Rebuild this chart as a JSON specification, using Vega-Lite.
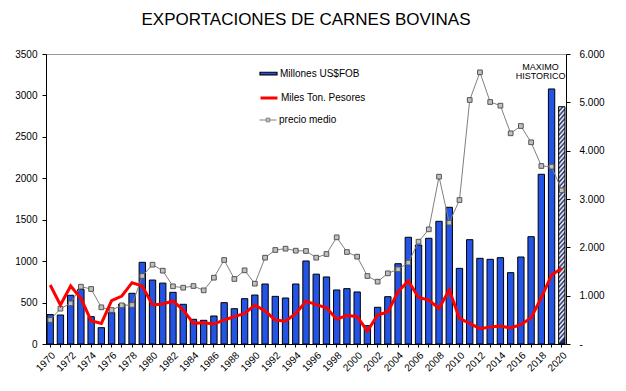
{
  "$schema": "https://vega.github.io/schema/vega-lite/v6.json",
  "width": 520,
  "height": 290,
  "autosize": "none",
  "padding": {"left": 46, "top": 54, "right": 60, "bottom": 47},
  "background": "white",
  "title": {"text": "EXPORTACIONES DE CARNES BOVINAS", "anchor": "middle", "offset": 20, "fontSize": 17, "fontWeight": "normal", "font": "Liberation Sans", "color": "black"},
  "config": {
    "font": "Liberation Sans",
    "view": {"stroke": "#999999", "strokeWidth": 1},
    "axis": {"labelFont": "Liberation Sans", "labelFontSize": 10, "labelColor": "black", "domainColor": "black", "tickColor": "black", "grid": false, "title": null},
    "legend": {"orient": "none", "padding": 0, "labelFont": "Liberation Sans", "labelFontSize": 10, "labelColor": "black", "labelOffset": 2, "symbolSize": 289, "symbolOpacity": 1, "title": null}
  },
  "data": {"values": [
    {"year": 1970, "usd": 355, "tons": 712, "precio": 497},
    {"year": 1971, "usd": 350, "tons": 471, "precio": 731},
    {"year": 1972, "usd": 588, "tons": 700, "precio": 841},
    {"year": 1973, "usd": 660, "tons": 551, "precio": 1186},
    {"year": 1974, "usd": 330, "tons": 281, "precio": 1138},
    {"year": 1975, "usd": 197, "tons": 249, "precio": 759},
    {"year": 1976, "usd": 378, "tons": 523, "precio": 703},
    {"year": 1977, "usd": 483, "tons": 579, "precio": 800},
    {"year": 1978, "usd": 612, "tons": 740, "precio": 807},
    {"year": 1979, "usd": 986, "tons": 700, "precio": 1407},
    {"year": 1980, "usd": 772, "tons": 471, "precio": 1641},
    {"year": 1981, "usd": 735, "tons": 483, "precio": 1517},
    {"year": 1982, "usd": 624, "tons": 519, "precio": 1193},
    {"year": 1983, "usd": 479, "tons": 410, "precio": 1165},
    {"year": 1984, "usd": 298, "tons": 249, "precio": 1200},
    {"year": 1985, "usd": 286, "tons": 257, "precio": 1110},
    {"year": 1986, "usd": 338, "tons": 241, "precio": 1372},
    {"year": 1987, "usd": 499, "tons": 290, "precio": 1738},
    {"year": 1988, "usd": 426, "tons": 330, "precio": 1345},
    {"year": 1989, "usd": 547, "tons": 370, "precio": 1524},
    {"year": 1990, "usd": 591, "tons": 471, "precio": 1248},
    {"year": 1991, "usd": 724, "tons": 398, "precio": 1786},
    {"year": 1992, "usd": 575, "tons": 290, "precio": 1945},
    {"year": 1993, "usd": 555, "tons": 274, "precio": 1972},
    {"year": 1994, "usd": 724, "tons": 370, "precio": 1931},
    {"year": 1995, "usd": 1002, "tons": 517, "precio": 1924},
    {"year": 1996, "usd": 843, "tons": 475, "precio": 1786},
    {"year": 1997, "usd": 809, "tons": 438, "precio": 1862},
    {"year": 1998, "usd": 652, "tons": 298, "precio": 2207},
    {"year": 1999, "usd": 668, "tons": 346, "precio": 1903},
    {"year": 2000, "usd": 628, "tons": 330, "precio": 1807},
    {"year": 2001, "usd": 221, "tons": 157, "precio": 1407},
    {"year": 2002, "usd": 443, "tons": 350, "precio": 1290},
    {"year": 2003, "usd": 571, "tons": 386, "precio": 1462},
    {"year": 2004, "usd": 969, "tons": 631, "precio": 1545},
    {"year": 2005, "usd": 1288, "tons": 760, "precio": 1683},
    {"year": 2006, "usd": 1195, "tons": 563, "precio": 2117},
    {"year": 2007, "usd": 1276, "tons": 531, "precio": 2372},
    {"year": 2008, "usd": 1481, "tons": 430, "precio": 3462},
    {"year": 2009, "usd": 1650, "tons": 652, "precio": 2510},
    {"year": 2010, "usd": 913, "tons": 310, "precio": 2979},
    {"year": 2011, "usd": 1259, "tons": 249, "precio": 5048},
    {"year": 2012, "usd": 1034, "tons": 185, "precio": 5621},
    {"year": 2013, "usd": 1022, "tons": 205, "precio": 5007},
    {"year": 2014, "usd": 1042, "tons": 217, "precio": 4931},
    {"year": 2015, "usd": 861, "tons": 193, "precio": 4359},
    {"year": 2016, "usd": 1050, "tons": 233, "precio": 4510},
    {"year": 2017, "usd": 1295, "tons": 318, "precio": 4173},
    {"year": 2018, "usd": 2048, "tons": 559, "precio": 3683},
    {"year": 2019, "usd": 3078, "tons": 833, "precio": 3669},
    {"year": 2020, "usd": 2864, "tons": 913, "precio": 3180}
  ]},
  "encoding": {
    "x": {"field": "year", "type": "ordinal", "scale": {"paddingInner": 0.38, "paddingOuter": 0.1},
      "axis": {"labelAngle": -45, "labelExpr": "datum.value % 2 == 0 ? datum.value : ''", "tickSize": 3, "labelPadding": 3, "labelFontSize": 10}}
  },
  "layer": [
    {
      "transform": [{"filter": "datum.year != 2020"}],
      "mark": {"type": "bar", "stroke": "black", "strokeWidth": 1},
      "encoding": {
        "y": {"field": "usd", "type": "quantitative", "scale": {"domain": [0, 3500], "nice": false},
          "axis": {"orient": "left", "format": "d", "values": [0, 500, 1000, 1500, 2000, 2500, 3000, 3500], "tickSize": 4, "labelPadding": 5}},
        "fill": {"datum": "Millones US$FOB", "scale": {"range": ["#2454e6"]},
          "legend": {"legendX": 213, "legendY": 10, "symbolType": "M-1,-0.15H1V0.15H-1Z", "symbolStrokeColor": "black", "symbolStrokeWidth": 1.2, "symbolFillColor": "#2454e6"}}
      }
    },
    {
      "transform": [{"filter": "datum.year == 2020"}],
      "mark": {"type": "bar", "stroke": "black", "strokeWidth": 1,
        "fill": {"gradient": "linear", "x1": 0, "y1": 0, "x2": 0.03, "y2": 1, "stops": [
          {"offset": 0, "color": "#1c2a6b"}, {"offset": 0.01, "color": "#ffffff"}, {"offset": 0.02, "color": "#1c2a6b"}, {"offset": 0.03, "color": "#ffffff"}, {"offset": 0.04, "color": "#1c2a6b"},
          {"offset": 0.05, "color": "#ffffff"}, {"offset": 0.06, "color": "#1c2a6b"}, {"offset": 0.07, "color": "#ffffff"}, {"offset": 0.08, "color": "#1c2a6b"}, {"offset": 0.09, "color": "#ffffff"},
          {"offset": 0.1, "color": "#1c2a6b"}, {"offset": 0.11, "color": "#ffffff"}, {"offset": 0.12, "color": "#1c2a6b"}, {"offset": 0.13, "color": "#ffffff"}, {"offset": 0.14, "color": "#1c2a6b"},
          {"offset": 0.15, "color": "#ffffff"}, {"offset": 0.16, "color": "#1c2a6b"}, {"offset": 0.17, "color": "#ffffff"}, {"offset": 0.18, "color": "#1c2a6b"}, {"offset": 0.19, "color": "#ffffff"},
          {"offset": 0.2, "color": "#1c2a6b"}, {"offset": 0.21, "color": "#ffffff"}, {"offset": 0.22, "color": "#1c2a6b"}, {"offset": 0.23, "color": "#ffffff"}, {"offset": 0.24, "color": "#1c2a6b"},
          {"offset": 0.25, "color": "#ffffff"}, {"offset": 0.26, "color": "#1c2a6b"}, {"offset": 0.27, "color": "#ffffff"}, {"offset": 0.28, "color": "#1c2a6b"}, {"offset": 0.29, "color": "#ffffff"},
          {"offset": 0.3, "color": "#1c2a6b"}, {"offset": 0.31, "color": "#ffffff"}, {"offset": 0.32, "color": "#1c2a6b"}, {"offset": 0.33, "color": "#ffffff"}, {"offset": 0.34, "color": "#1c2a6b"},
          {"offset": 0.35, "color": "#ffffff"}, {"offset": 0.36, "color": "#1c2a6b"}, {"offset": 0.37, "color": "#ffffff"}, {"offset": 0.38, "color": "#1c2a6b"}, {"offset": 0.39, "color": "#ffffff"},
          {"offset": 0.4, "color": "#1c2a6b"}, {"offset": 0.41, "color": "#ffffff"}, {"offset": 0.42, "color": "#1c2a6b"}, {"offset": 0.43, "color": "#ffffff"}, {"offset": 0.44, "color": "#1c2a6b"},
          {"offset": 0.45, "color": "#ffffff"}, {"offset": 0.46, "color": "#1c2a6b"}, {"offset": 0.47, "color": "#ffffff"}, {"offset": 0.48, "color": "#1c2a6b"}, {"offset": 0.49, "color": "#ffffff"},
          {"offset": 0.5, "color": "#1c2a6b"}, {"offset": 0.51, "color": "#ffffff"}, {"offset": 0.52, "color": "#1c2a6b"}, {"offset": 0.53, "color": "#ffffff"}, {"offset": 0.54, "color": "#1c2a6b"},
          {"offset": 0.55, "color": "#ffffff"}, {"offset": 0.56, "color": "#1c2a6b"}, {"offset": 0.57, "color": "#ffffff"}, {"offset": 0.58, "color": "#1c2a6b"}, {"offset": 0.59, "color": "#ffffff"},
          {"offset": 0.6, "color": "#1c2a6b"}, {"offset": 0.61, "color": "#ffffff"}, {"offset": 0.62, "color": "#1c2a6b"}, {"offset": 0.63, "color": "#ffffff"}, {"offset": 0.64, "color": "#1c2a6b"},
          {"offset": 0.65, "color": "#ffffff"}, {"offset": 0.66, "color": "#1c2a6b"}, {"offset": 0.67, "color": "#ffffff"}, {"offset": 0.68, "color": "#1c2a6b"}, {"offset": 0.69, "color": "#ffffff"},
          {"offset": 0.7, "color": "#1c2a6b"}, {"offset": 0.71, "color": "#ffffff"}, {"offset": 0.72, "color": "#1c2a6b"}, {"offset": 0.73, "color": "#ffffff"}, {"offset": 0.74, "color": "#1c2a6b"},
          {"offset": 0.75, "color": "#ffffff"}, {"offset": 0.76, "color": "#1c2a6b"}, {"offset": 0.77, "color": "#ffffff"}, {"offset": 0.78, "color": "#1c2a6b"}, {"offset": 0.79, "color": "#ffffff"},
          {"offset": 0.8, "color": "#1c2a6b"}, {"offset": 0.81, "color": "#ffffff"}, {"offset": 0.82, "color": "#1c2a6b"}, {"offset": 0.83, "color": "#ffffff"}, {"offset": 0.84, "color": "#1c2a6b"},
          {"offset": 0.85, "color": "#ffffff"}, {"offset": 0.86, "color": "#1c2a6b"}, {"offset": 0.87, "color": "#ffffff"}, {"offset": 0.88, "color": "#1c2a6b"}, {"offset": 0.89, "color": "#ffffff"},
          {"offset": 0.9, "color": "#1c2a6b"}, {"offset": 0.91, "color": "#ffffff"}, {"offset": 0.92, "color": "#1c2a6b"}, {"offset": 0.93, "color": "#ffffff"}, {"offset": 0.94, "color": "#1c2a6b"},
          {"offset": 0.95, "color": "#ffffff"}, {"offset": 0.96, "color": "#1c2a6b"}, {"offset": 0.97, "color": "#ffffff"}, {"offset": 0.98, "color": "#1c2a6b"}, {"offset": 0.99, "color": "#ffffff"},
          {"offset": 1, "color": "#1c2a6b"}
        ]}},
      "encoding": {
        "y": {"field": "usd", "type": "quantitative", "scale": {"domain": [0, 3500], "nice": false}, "axis": null}
      }
    },
    {
      "mark": {"type": "line", "strokeWidth": 1},
      "encoding": {
        "y": {"field": "precio", "type": "quantitative", "scale": {"domain": [0, 6000], "nice": false},
          "axis": {"orient": "right", "values": [0, 1000, 2000, 3000, 4000, 5000, 6000], "tickSize": 4, "labelPadding": 9,
            "labelExpr": "datum.value == 0 ? '-' : replace(format(datum.value, ','), ',', '.')"}},
        "color": {"datum": "precio medio", "scale": {"range": ["#808080"]},
          "legend": {"legendX": 213, "legendY": 57, "symbolType": "M-1,0H-0.22M0.22,0H1M-0.22,-0.22H0.22V0.22H-0.22Z", "symbolFillColor": "#c0c0c0", "symbolStrokeColor": "#707070", "symbolStrokeWidth": 1}}
      }
    },
    {
      "mark": {"type": "point", "shape": "square", "filled": true, "fill": "#c0c0c0", "stroke": "#555555", "strokeWidth": 1, "size": 22, "opacity": 1},
      "encoding": {
        "y": {"field": "precio", "type": "quantitative", "scale": {"domain": [0, 6000], "nice": false}, "axis": null}
      }
    },
    {
      "mark": {"type": "line", "strokeWidth": 3},
      "encoding": {
        "y": {"field": "tons", "type": "quantitative", "scale": {"domain": [0, 3500], "nice": false}, "axis": null},
        "stroke": {"datum": "Miles Ton. Pesores", "scale": {"range": ["#ff0000"]},
          "legend": {"legendX": 213, "legendY": 34, "symbolType": "M-1,0H1", "symbolStrokeWidth": 3, "symbolStrokeColor": "#ff0000"}}
      }
    },
    {
      "transform": [{"filter": "datum.year == 2019"}],
      "mark": {"type": "text", "text": ["MAXIMO", "HISTORICO"], "font": "Liberation Sans", "fontSize": 9, "color": "black", "align": "center", "baseline": "bottom", "lineHeight": 9.5, "dx": -11, "dy": -17},
      "encoding": {
        "y": {"field": "usd", "type": "quantitative", "scale": {"domain": [0, 3500], "nice": false}, "axis": null}
      }
    }
  ],
  "resolve": {"scale": {"y": "independent"}, "axis": {"y": "independent"}}
}
